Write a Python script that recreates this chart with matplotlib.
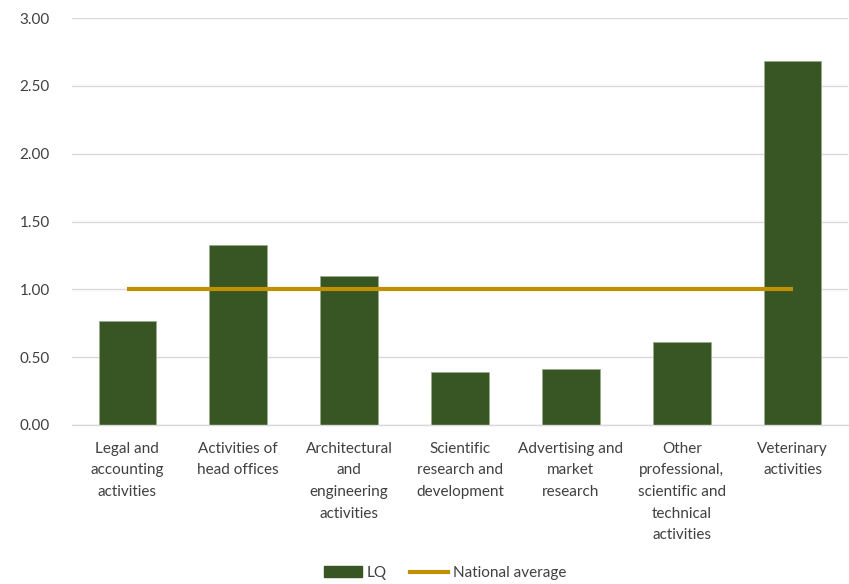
import matplotlib.pyplot as plt
from matplotlib.lines import Line2D
from matplotlib.patches import Patch

categories = [
    "Legal and\naccounting\nactivities",
    "Activities of\nhead offices",
    "Architectural\nand\nengineering\nactivities",
    "Scientific\nresearch and\ndevelopment",
    "Advertising and\nmarket\nresearch",
    "Other\nprofessional,\nscientific and\ntechnical\nactivities",
    "Veterinary\nactivities",
]
lq = [0.77, 1.33, 1.10, 0.39, 0.415, 0.61, 2.685]
national_average = [1.0] * len(categories)
y_ticks = [0.0, 0.5, 1.0, 1.5, 2.0, 2.5, 3.0]

plt.rcParams['font.family'] = ['Lato', 'DejaVu Sans']

fig = plt.figure(figsize=(8.49, 5.84), dpi=100)
ax = fig.add_axes([72 / 849, 1 - 425 / 584, 776 / 849, 407 / 584])

x = list(range(len(categories)))
ax.bar(x, lq, width=0.52, color='#375623', edgecolor='#9aab8c', linewidth=0.6, zorder=2)
ax.plot(x, national_average, color='#BF9000', linewidth=3, zorder=3, solid_capstyle='butt')

ax.set_xlim(-0.5, len(categories) - 0.5)
ax.set_ylim(0, 3.0)
ax.set_yticks(y_ticks)
ax.set_yticklabels([f"{v:.2f}" for v in y_ticks], color='#404040', fontsize=11)
ax.set_xticks(x)
ax.set_xticklabels(categories, color='#404040', fontsize=11, linespacing=1.7, va='top')
ax.tick_params(axis='both', length=0)
ax.tick_params(axis='y', pad=16)
ax.tick_params(axis='x', pad=12)
ax.grid(axis='y', color='#d9d9d9', linewidth=1, zorder=0)
for s in ['top', 'right', 'left']:
    ax.spines[s].set_visible(False)
ax.spines['bottom'].set_color('#d9d9d9')
ax.spines['bottom'].set_linewidth(1)

handles = [
    Patch(facecolor='#375623', edgecolor='#375623', label='LQ'),
    Line2D([0], [0], color='#BF9000', linewidth=3, label='National average'),
]
fig.legend(handles=handles, loc='center', bbox_to_anchor=(445 / 849, 1 - 573 / 584),
           ncol=2, frameon=False, fontsize=11, handlelength=2.5, handleheight=0.7,
           columnspacing=1.5, handletextpad=0.3, labelcolor='#404040')

fig.savefig('out.png', dpi=100)
